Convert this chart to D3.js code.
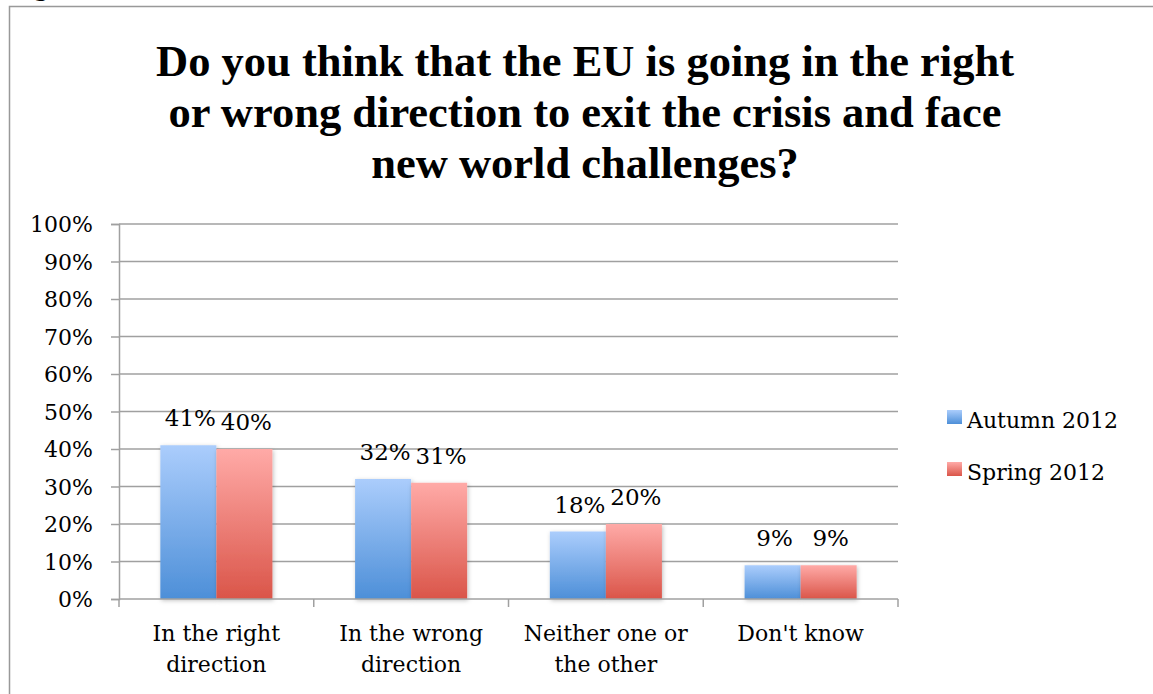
<!DOCTYPE html>
<html><head><meta charset="utf-8">
<script src="https://cdn.jsdelivr.net/npm/d3@7"></script>
<style>
html,body{margin:0;padding:0;background:#fff;}
svg{display:block;}
</style></head>
<body>
<svg id="chart" width="1153" height="694"></svg>
<script>
const titleLines = ["Do you think that the EU is going in the right","or wrong direction to exit the crisis and face","new world challenges?"];
const categories = ["In the right direction","In the wrong direction","Neither one or the other","Don't know"];
const categoryLines = [["In the right","direction"],["In the wrong","direction"],["Neither one or","the other"],["Don't know"]];
const seriesNames = ["Autumn 2012","Spring 2012"];
const autumn2012 = [41,32,18,9];
const spring2012 = [40,31,20,9];
const yTicks = [0,10,20,30,40,50,60,70,80,90,100];

const svg = d3.select("#chart");
const grid = "#a0a0a0";
const serif = "'DejaVu Serif', serif";

// gradients
const defs = svg.append("defs");
const grads = [["gBlue","#abcdfc","#4d8fd8"],["gRed","#ffaaa7","#da5549"]];
grads.forEach(([id,top,bot])=>{
  const g = defs.append("linearGradient").attr("id",id).attr("x1",0).attr("y1",0).attr("x2",0).attr("y2",1);
  g.append("stop").attr("offset","0%").attr("stop-color",top);
  g.append("stop").attr("offset","100%").attr("stop-color",bot);
});
const f = defs.append("filter").attr("id","sh").attr("x","-20%").attr("y","-20%").attr("width","150%").attr("height","150%");
f.append("feDropShadow").attr("dx",1).attr("dy",1.5).attr("stdDeviation",2).attr("flood-color","#000").attr("flood-opacity",0.25);

// frame
svg.append("path").attr("d","M9.5,694 V6.5 H1153").attr("fill","none").attr("stroke","#999").attr("stroke-width",1.5);
svg.append("text").attr("x",10).attr("y",-4).attr("font-family",serif).attr("font-weight","bold").attr("font-size",22).text("Figure 3");

// title
svg.append("g").selectAll("text").data(titleLines).join("text")
  .attr("x",585).attr("y",(d,i)=>76+i*51)
  .attr("text-anchor","middle")
  .attr("font-family","'Liberation Serif', serif").attr("font-weight","bold").attr("font-size",44.5)
  .attr("fill","#000").text(d=>d);

const x = d3.scaleBand().domain(categories).range([119,898]).paddingInner(0).paddingOuter(0);
const y = d3.scaleLinear().domain([0,100]).range([599,224]);
const bw = x.bandwidth()*0.2877;

// gridlines
svg.append("g").selectAll("line").data(yTicks.filter(d=>d>0)).join("line")
  .attr("x1",119).attr("x2",898).attr("y1",d=>y(d)).attr("y2",d=>y(d))
  .attr("stroke",grid).attr("stroke-width",1.5);

// y axis
const yAxis = svg.append("g").attr("transform","translate(119,0)")
  .call(d3.axisLeft(y).tickValues(yTicks).tickFormat(d=>d+"%").tickSize(8).tickPadding(18));
yAxis.select(".domain").attr("stroke",grid).attr("stroke-width",1.5).attr("d","M-8,224.5H0.5V599.5H-8");
yAxis.selectAll(".tick line").attr("stroke",grid).attr("stroke-width",1.5);
yAxis.selectAll(".tick text").attr("font-family",serif).attr("font-size",22).attr("fill","#000").attr("dy","0.36em");

// bars
const series = [autumn2012, spring2012];
const fills = ["url(#gBlue)","url(#gRed)"];
series.forEach((vals,si)=>{
  const gg = svg.append("g");
  gg.selectAll("rect").data(categories).join("rect")
    .attr("x",(c)=>x(c)+x.bandwidth()/2-bw+si*bw)
    .attr("y",(c,i)=>y(vals[i]))
    .attr("width",bw)
    .attr("height",(c,i)=>y(0)-y(vals[i]))
    .attr("fill",fills[si]).attr("filter","url(#sh)");
});
series.forEach((vals,si)=>{
  svg.append("g").selectAll("text").data(categories).join("text")
    .attr("x",(c)=>x(c)+x.bandwidth()/2-bw/2+si*bw+2)
    .attr("y",(c,i)=>y(vals[i])-19)
    .attr("text-anchor","middle").attr("font-family",serif).attr("font-size",23).attr("fill","#000")
    .text((c,i)=>vals[i]+"%");
});

// x axis
svg.append("line").attr("x1",119).attr("x2",898).attr("y1",y(0)).attr("y2",y(0)).attr("stroke",grid).attr("stroke-width",1.5);
const bounds = categories.map(c=>x(c)).concat([x(categories[categories.length-1])+x.bandwidth()]);
svg.append("g").selectAll("line").data(bounds).join("line")
  .attr("x1",d=>d).attr("x2",d=>d).attr("y1",y(0)).attr("y2",y(0)+8)
  .attr("stroke",grid).attr("stroke-width",1.5);
const xl = svg.append("g").selectAll("text").data(categories).join("text")
  .attr("x",c=>x(c)+x.bandwidth()/2).attr("y",641)
  .attr("text-anchor","middle").attr("font-family",serif).attr("font-size",22).attr("fill","#000");
xl.each(function(c,i){
  d3.select(this).selectAll("tspan").data(categoryLines[i]).join("tspan")
    .attr("x",x(c)+x.bandwidth()/2).attr("dy",(d,j)=>j===0?0:31).text(d=>d);
});

// legend
const lg = svg.append("g");
seriesNames.forEach((n,i)=>{
  lg.append("rect").attr("x",947).attr("y",410+i*52).attr("width",15).attr("height",14).attr("fill",fills[i]);
  lg.append("text").attr("x",967).attr("y",428+i*52).attr("font-family",serif).attr("font-size",22).attr("fill","#000").text(n);
});
</script>
</body></html>
